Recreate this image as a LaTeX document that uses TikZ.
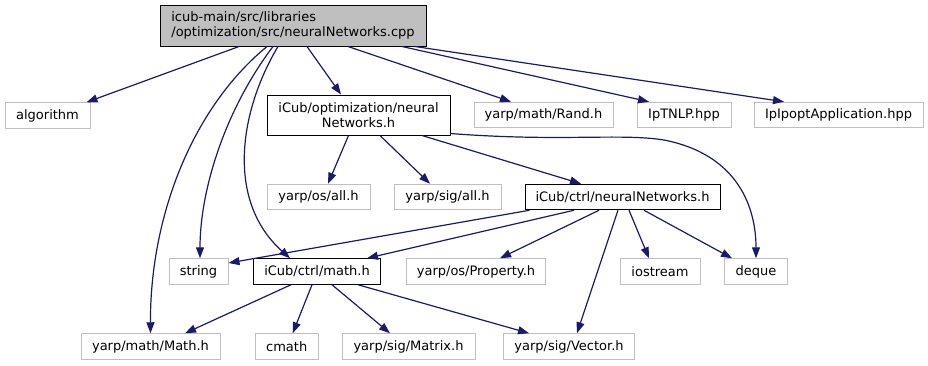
\documentclass[tikz,border=0pt]{standalone}
\usepackage{fontspec}
\setmainfont{DejaVu Sans}
\usetikzlibrary{arrows.meta}
\definecolor{edgeblue}{HTML}{191970}
\definecolor{boxgray}{HTML}{BFBFBF}
\tikzset{
  extfile/.style={draw=boxgray, line width=1pt, inner sep=0pt, minimum height=25.5pt},
  localfile/.style={draw=black, line width=1pt, inner sep=0pt, minimum height=25.5pt},
  incl/.style={draw=edgeblue, line width=1.2pt, -{Triangle[length=11pt,width=8pt]}}
}
\begin{document}
\begin{tikzpicture}[x=1pt,y=-1pt,font=\fontsize{13}{15}\selectfont]
\useasboundingbox (0,0) rectangle (928,365);
% the source file
\node (root) [localfile, fill=boxgray, minimum width=266pt, minimum height=41pt, align=left] at (293,25.5)
  {icub-main/src/libraries\\/optimization/src/neuralNetworks.cpp};
% first row
\node (algorithm) [extfile, minimum width=85pt] at (47.5,115.5) {algorithm};
\node (optnn) [localfile, minimum width=183pt, minimum height=40pt, align=center] at (358.5,115) {iCub/optimization/neural\\Networks.h};
\node (rand) [extfile, minimum width=139pt] at (543.5,115) {yarp/math/Rand.h};
\node (tnlp) [extfile, minimum width=94pt] at (684,115) {IpTNLP.hpp};
\node (ipopt) [extfile, minimum width=169pt] at (838.5,115) {IpIpoptApplication.hpp};
% second row
\node (osall) [extfile, minimum width=103pt] at (318.5,197) {yarp/os/all.h};
\node (sigall) [extfile, minimum width=107pt] at (447.5,197) {yarp/sig/all.h};
\node (ctrlnn) [localfile, minimum width=195pt] at (622.5,197) {iCub/ctrl/neuralNetworks.h};
% third row
\node (string) [extfile, minimum width=59pt] at (198.5,271.5) {string};
\node (ctrlmath) [localfile, minimum width=127pt] at (317,271.5) {iCub/ctrl/math.h};
\node (property) [extfile, minimum width=139pt] at (476,271.5) {yarp/os/Property.h};
\node (iostream) [extfile, minimum width=80pt] at (660,271.5) {iostream};
\node (deque) [extfile, minimum width=63pt] at (756,271.5) {deque};
% bottom row
\node (mathh) [extfile, minimum width=139pt] at (150.5,346.5) {yarp/math/Math.h};
\node (cmath) [extfile, minimum width=63pt] at (286.7,346.5) {cmath};
\node (matrix) [extfile, minimum width=133pt] at (408.5,346.5) {yarp/sig/Matrix.h};
\node (vector) [extfile, minimum width=131pt] at (569,346.5) {yarp/sig/Vector.h};

% includes of the source file
\draw [incl] ([xshift=-54pt]root.south) -- ([xshift=-4pt]algorithm.north east);
\draw [incl] ([xshift=14pt]root.south) -- ([xshift=-17.5pt]optnn.north);
\draw [incl] ([xshift=55pt]root.south) -- ([xshift=-32.5pt]rand.north);
\draw [incl] ([xshift=109pt]root.south) -- ([xshift=-35pt]tnlp.north);
\draw [incl] ([xshift=122pt]root.south) -- ([xshift=-54.5pt]ipopt.north);
\draw [incl] ([xshift=-26pt]root.south) .. controls (190,110) and (150,220) .. (mathh.north);
\draw [incl] ([xshift=-20pt]root.south) .. controls (225,110) and (200,190) .. ([xshift=1.5pt]string.north);
\draw [incl] ([xshift=-15pt]root.south) .. controls (240,110) and (225,200) .. ([xshift=-27pt]ctrlmath.north);
% iCub/optimization/neuralNetworks.h
\draw [incl] ([xshift=-10pt]optnn.south) -- ([xshift=9.5pt]osall.north);
\draw [incl] ([xshift=21.5pt]optnn.south) -- ([xshift=-17.5pt]sigall.north);
\draw [incl] ([xshift=63.5pt]optnn.south) -- ([xshift=-41.5pt]ctrlnn.north);
\draw [incl] ([yshift=2pt]optnn.south east) .. controls (560,142) and (620,133) .. (664,140)
  .. controls (740,155) and (756,210) .. (deque.north);
% iCub/ctrl/neuralNetworks.h
\draw [incl] ([xshift=-93pt]ctrlnn.south) -- ([yshift=8.5pt]string.east);
\draw [incl] ([xshift=-48.5pt]ctrlnn.south) -- ([xshift=50pt]ctrlmath.north);
\draw [incl] ([xshift=-23.5pt]ctrlnn.south) -- ([xshift=24pt]property.north);
\draw [incl] ([xshift=6.5pt]ctrlnn.south) -- ([xshift=-11pt]iostream.north);
\draw [incl] ([xshift=21.5pt]ctrlnn.south) -- ([xshift=-24pt]deque.north);
\draw [incl] ([xshift=-4.5pt]ctrlnn.south) -- ([xshift=8pt]vector.north);
% iCub/ctrl/math.h
\draw [incl] ([xshift=-26pt]ctrlmath.south) -- ([xshift=34.5pt]mathh.north);
\draw [incl] ([xshift=-5pt]ctrlmath.south) -- ([xshift=6pt]cmath.north);
\draw [incl] ([xshift=15pt]ctrlmath.south) -- ([xshift=-18.5pt]matrix.north);
\draw [incl] ([xshift=41pt]ctrlmath.south) -- ([xshift=-40pt]vector.north);
\end{tikzpicture}
\end{document}
